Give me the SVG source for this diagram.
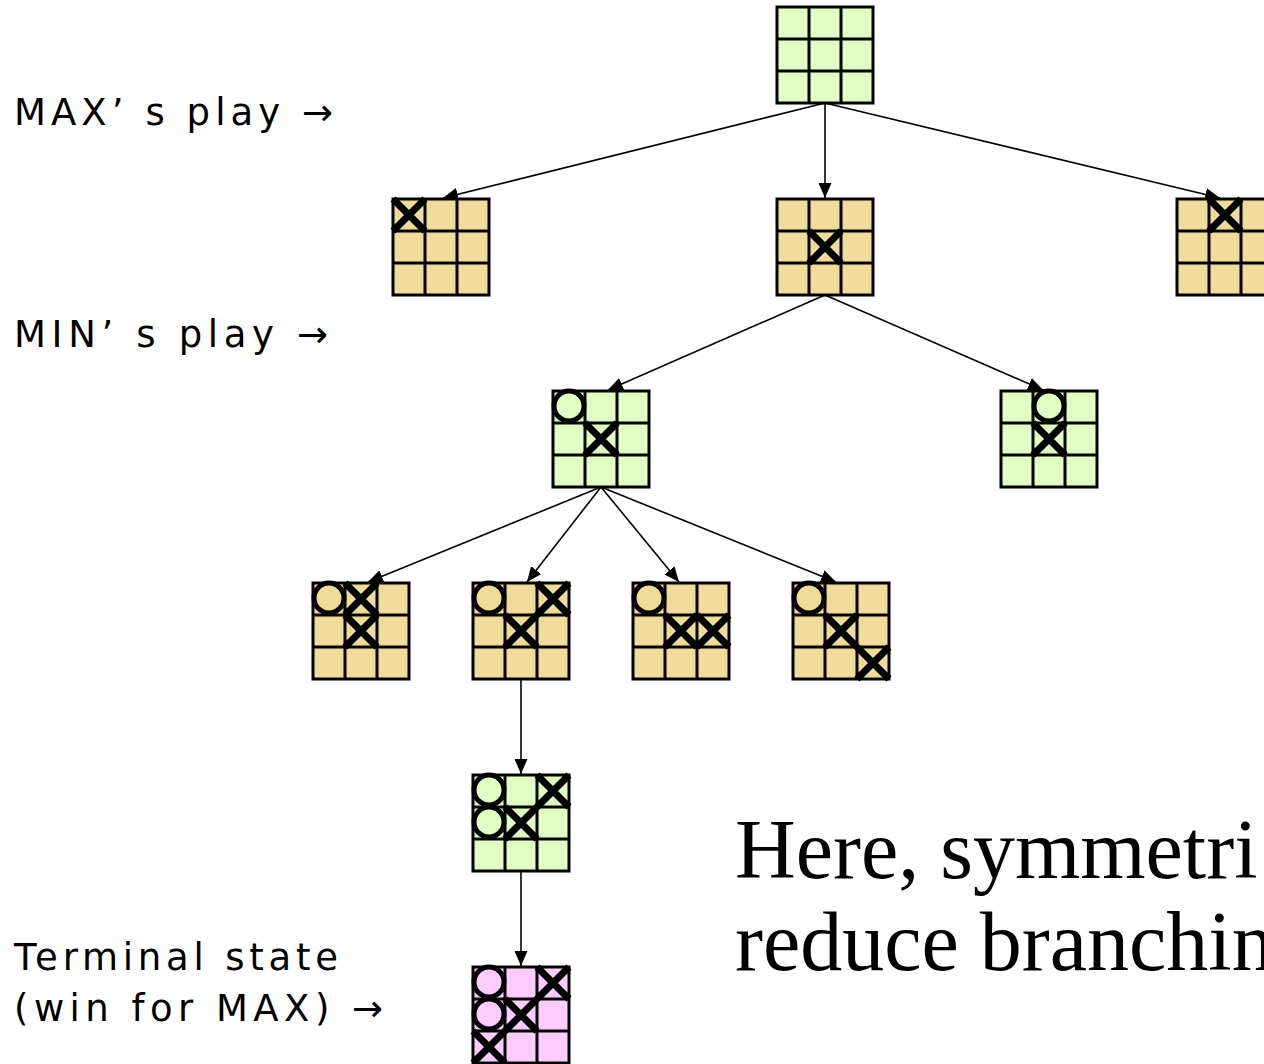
<svg xmlns="http://www.w3.org/2000/svg" width="1264" height="1064" viewBox="0 0 1264 1064">
<style>
.g{fill:#E0FFC2}.t{fill:#F0DC9A}.p{fill:#FFCCFF}
.bd{stroke:#000;stroke-width:3}
.gl{stroke:#000;stroke-width:3;fill:none}
.x{stroke:#000;stroke-width:7;fill:none}
.o{stroke:#000;stroke-width:5;fill:none}
.c{stroke:#000;stroke-width:1.6;fill:none;marker-end:url(#ah)}
.lab{font-family:"DejaVu Sans","Noto Sans",sans-serif;font-size:37px;fill:#000}
.big{font-family:"Liberation Serif","Times New Roman",serif;font-size:84px;fill:#000}
</style>
<defs>
<marker id="ah" markerUnits="userSpaceOnUse" markerWidth="17" markerHeight="13" refX="15" refY="6.5" orient="auto">
<path d="M0,0 L15,6.5 L0,13 Z" fill="#000"/>
</marker>
<path id="grid" d="M32,0 V96 M64,0 V96 M0,32 H96 M0,64 H96" class="gl"/>
<path id="X" d="M0,0 L32,32 M32,0 L0,32" class="x"/>
<circle id="O" cx="16" cy="15" r="15" class="o"/>
</defs>

<g id="labels">
<text class="lab" x="14" y="125" textLength="319">MAX’ s play →</text>
<text class="lab" x="14" y="347" textLength="314">MIN’ s play →</text>
<text class="lab" x="14" y="970" textLength="324">Terminal state</text>
<text class="lab" x="14" y="1021" textLength="369">(win for MAX) →</text>
<text class="big" x="735" y="878">Here, symmetri</text>
<text class="big" x="735" y="970">reduce branchin</text>
</g>

<g id="connectors">
<line class="c" x1="825" y1="103" x2="443" y2="198"/>
<line class="c" x1="825" y1="103" x2="825" y2="198"/>
<line class="c" x1="825" y1="103" x2="1220" y2="198"/>
<line class="c" x1="825" y1="295" x2="608" y2="390"/>
<line class="c" x1="825" y1="295" x2="1043" y2="390"/>
<line class="c" x1="601" y1="487" x2="368" y2="582"/>
<line class="c" x1="601" y1="487" x2="527" y2="582"/>
<line class="c" x1="601" y1="487" x2="679" y2="582"/>
<line class="c" x1="601" y1="487" x2="836" y2="582"/>
<line class="c" x1="521" y1="679" x2="521" y2="774"/>
<line class="c" x1="521" y1="871" x2="521" y2="966"/>
</g>

<g id="root" transform="translate(777,7)">
<rect class="g bd" width="96" height="96"/><use href="#grid"/>
</g>

<g id="max1" transform="translate(393,199)">
<rect class="t bd" width="96" height="96"/><use href="#grid"/>
<use href="#X" x="0" y="0"/>
</g>
<g id="max2" transform="translate(777,199)">
<rect class="t bd" width="96" height="96"/><use href="#grid"/>
<use href="#X" x="32" y="32"/>
</g>
<g id="max3" transform="translate(1177,199)">
<rect class="t bd" width="96" height="96"/><use href="#grid"/>
<use href="#X" x="32" y="0"/>
</g>

<g id="min1" transform="translate(553,391)">
<rect class="g bd" width="96" height="96"/><use href="#grid"/>
<use href="#X" x="32" y="32"/><use href="#O" x="0" y="0"/>
</g>
<g id="min2" transform="translate(1001,391)">
<rect class="g bd" width="96" height="96"/><use href="#grid"/>
<use href="#X" x="32" y="32"/><use href="#O" x="32" y="0"/>
</g>

<g id="l3a" transform="translate(313,583)">
<rect class="t bd" width="96" height="96"/><use href="#grid"/>
<use href="#X" x="32" y="0"/><use href="#X" x="32" y="32"/><use href="#O" x="0" y="0"/>
</g>
<g id="l3b" transform="translate(473,583)">
<rect class="t bd" width="96" height="96"/><use href="#grid"/>
<use href="#X" x="64" y="0"/><use href="#X" x="32" y="32"/><use href="#O" x="0" y="0"/>
</g>
<g id="l3c" transform="translate(633,583)">
<rect class="t bd" width="96" height="96"/><use href="#grid"/>
<use href="#X" x="32" y="32"/><use href="#X" x="64" y="32"/><use href="#O" x="0" y="0"/>
</g>
<g id="l3d" transform="translate(793,583)">
<rect class="t bd" width="96" height="96"/><use href="#grid"/>
<use href="#X" x="32" y="32"/><use href="#X" x="64" y="64"/><use href="#O" x="0" y="0"/>
</g>

<g id="l4" transform="translate(473,775)">
<rect class="g bd" width="96" height="96"/><use href="#grid"/>
<use href="#X" x="64" y="0"/><use href="#X" x="32" y="32"/><use href="#O" x="0" y="0"/><use href="#O" x="0" y="32"/>
</g>

<g id="terminal" transform="translate(473,967)">
<rect class="p bd" width="96" height="96"/><use href="#grid"/>
<use href="#X" x="64" y="0"/><use href="#X" x="32" y="32"/><use href="#X" x="0" y="64"/><use href="#O" x="0" y="0"/><use href="#O" x="0" y="32"/>
</g>
</svg>
